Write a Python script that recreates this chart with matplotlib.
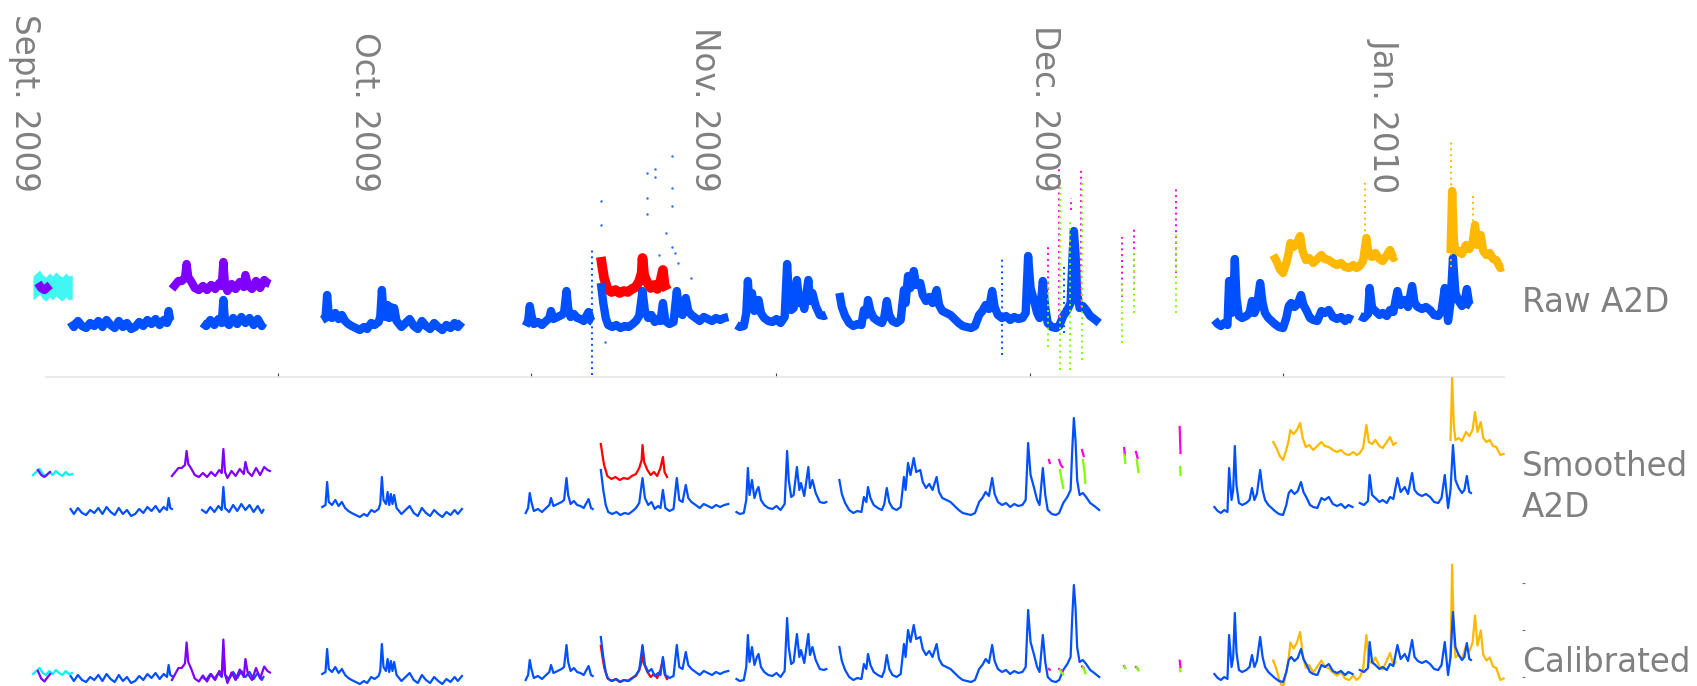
import numpy as np
import matplotlib.pyplot as plt

nan = np.nan

# x = days since 1 Sept 2009, y = sensor A2D level (arbitrary units)
month_ticks = [30, 61, 91, 122, 153]
month_labels = ['Sept. 2009', 'Oct. 2009', 'Nov. 2009', 'Dec. 2009', 'Jan. 2010']
row_labels = ['Raw A2D', 'Smoothed\nA2D', 'Calibrated']

# --- reference sensor (blue), one list per recording period
blue_sep_a = [(4.6, 51), (5.0, 46), (5.5, 52), (6.0, 47), (6.5, 45), (7.0, 50), (7.5, 47), (8.0, 52),
              (8.5, 46), (9.0, 53), (9.5, 48), (10.0, 45), (10.5, 52), (11.0, 46), (11.5, 50), (12.0, 44),
              (12.5, 46), (13.0, 51), (13.5, 47), (14.0, 53), (14.5, 49), (15.0, 54), (15.5, 48), (16.0, 53),
              (16.4, 50), (16.6, 62), (16.8, 52), (17.0, 51)]
blue_sep_b = [(20.7, 50), (21.2, 47), (21.7, 53), (22.2, 48), (22.7, 54), (23.1, 50), (23.3, 73), (23.5, 52),
              (24.0, 48), (24.5, 55), (25.0, 49), (25.5, 56), (26.0, 50), (26.5, 55), (27.0, 48), (27.5, 54),
              (28.0, 47), (28.2, 50)]
blue_oct = [(35.4, 53), (35.8, 55), (36.0, 78), (36.2, 58), (36.6, 55), (37.0, 60), (37.4, 54), (37.8, 58),
            (38.2, 52), (38.6, 49), (39.0, 47), (39.5, 45), (40.0, 43), (40.5, 46), (40.9, 44), (41.4, 50),
            (41.8, 48), (42.3, 51), (42.5, 56), (42.7, 83), (42.9, 60), (43.2, 56), (43.4, 68), (43.6, 55),
            (43.8, 66), (44.0, 56), (44.2, 65), (44.5, 52), (45.1, 46), (45.6, 50), (46.1, 54), (46.6, 47),
            (47.1, 44), (47.6, 52), (48.1, 47), (48.6, 44), (49.1, 50), (49.6, 46), (50.1, 43), (50.6, 48),
            (51.1, 45), (51.6, 50), (52.0, 46), (52.5, 51)]
blue_nov_a = [(60.3, 47), (60.6, 52), (60.8, 67), (61.0, 58), (61.3, 49), (61.8, 51), (62.3, 48), (62.8, 52),
              (63.2, 55), (63.4, 62), (63.7, 54), (64.2, 56), (64.7, 58), (65.0, 60), (65.3, 82), (65.5, 65),
              (65.8, 56), (66.2, 59), (66.6, 55), (67.0, 54), (67.4, 52), (67.8, 58), (68.0, 61), (68.3, 52),
              (68.5, 51)]
blue_nov_b = [(69.5, 90), (69.8, 70), (70.1, 55), (70.4, 48), (70.9, 46), (71.4, 48), (71.9, 45), (72.4, 47),
              (72.9, 46), (73.4, 49), (73.8, 52), (74.2, 57), (74.6, 82), (74.9, 62), (75.3, 55), (75.7, 58),
              (76.1, 51), (76.5, 54), (76.8, 52), (77.1, 70), (77.4, 52), (77.9, 49), (78.4, 51), (78.8, 82),
              (79.1, 60), (79.5, 58), (79.9, 75), (80.2, 62), (80.6, 58), (81.1, 55), (81.6, 52), (82.1, 56),
              (82.6, 54), (83.1, 52), (83.6, 55), (84.1, 53), (84.6, 55), (85.1, 56)]
blue_nov_c = [(86.1, 48), (86.5, 46), (87.0, 47), (87.3, 60), (87.5, 92), (87.7, 65), (88.0, 80), (88.3, 62),
              (88.6, 70), (88.8, 73), (89.1, 60), (89.5, 55), (90.0, 52), (90.5, 51), (91.0, 54), (91.5, 50),
              (92.0, 56), (92.3, 109), (92.5, 80), (92.8, 63), (93.1, 65), (93.5, 93), (93.8, 70), (94.0, 77),
              (94.4, 64), (94.9, 93), (95.1, 72), (95.4, 80), (95.8, 67), (96.3, 58), (96.8, 57), (97.1, 58)]
blue_dec = [(98.7, 80), (99.0, 66), (99.4, 57), (99.9, 50), (100.4, 47), (100.9, 49), (101.4, 48), (101.7, 63),
            (102.0, 58), (102.2, 73), (102.5, 62), (102.9, 55), (103.4, 52), (103.9, 50), (104.2, 56), (104.5, 72),
            (104.8, 58), (105.2, 52), (105.7, 50), (106.2, 53), (106.6, 83), (106.8, 70), (107.1, 97), (107.4, 85),
            (107.8, 102), (108.1, 88), (108.6, 90), (108.9, 78), (109.3, 72), (109.7, 76), (110.1, 70), (110.6, 83),
            (110.9, 68), (111.3, 62), (111.8, 60), (112.3, 58), (112.8, 54), (113.3, 50), (113.8, 47), (114.3, 46),
            (114.8, 45), (115.3, 47), (115.8, 58), (116.2, 62), (116.6, 68), (117.0, 64), (117.4, 82), (117.7, 66),
            (118.1, 58), (118.6, 55), (119.1, 57), (119.6, 53), (120.1, 56), (120.6, 54), (121.1, 55), (121.5, 60),
            (121.8, 117), (122.1, 85), (122.5, 73), (122.9, 60), (123.2, 55), (123.6, 92), (123.9, 65), (124.2, 50),
            (124.7, 46), (125.2, 45), (125.6, 47), (126.1, 57), (126.6, 63), (127.0, 70), (127.2, 110), (127.4, 142),
            (127.6, 120), (127.8, 80), (128.1, 65), (128.5, 67), (128.9, 63), (129.4, 57), (129.9, 54), (130.5, 50)]
blue_jan_a = [(144.6, 53), (145.0, 49), (145.4, 47), (145.8, 50), (146.2, 48), (146.4, 92), (146.7, 60),
              (146.9, 70), (147.1, 114), (147.3, 75), (147.6, 57), (148.0, 55), (148.5, 57), (148.9, 60),
              (149.2, 72), (149.5, 60), (149.8, 66), (150.2, 90), (150.5, 70), (150.8, 60), (151.2, 55),
              (151.6, 52), (152.0, 49), (152.5, 46), (153.0, 45), (153.4, 55), (153.7, 67), (154.0, 70),
              (154.4, 66), (154.8, 69), (155.2, 78), (155.5, 68), (155.9, 62), (156.3, 55), (156.7, 53),
              (157.2, 52), (157.7, 62), (158.1, 60), (158.6, 63), (159.1, 56), (159.6, 54), (160.1, 56),
              (160.6, 52), (161.0, 55), (161.5, 53)]
blue_jan_b = [(162.4, 57), (162.9, 55), (163.4, 59), (163.6, 85), (163.9, 65), (164.3, 62), (164.8, 58),
              (165.2, 60), (165.7, 57), (166.1, 63), (166.5, 61), (167.0, 82), (167.4, 68), (167.9, 73),
              (168.3, 66), (168.8, 87), (169.1, 70), (169.5, 66), (170.0, 64), (170.5, 66), (171.0, 63),
              (171.5, 58), (172.0, 57), (172.4, 62), (172.8, 85), (173.2, 52), (173.5, 70), (173.8, 115),
              (174.1, 80), (174.5, 72), (174.9, 67), (175.2, 70), (175.5, 84), (175.8, 68), (176.0, 67)]

# --- other sensors
cyan_sep = [(0.0, 85), (0.4, 88), (0.8, 91), (1.2, 86), (1.6, 84), (2.0, 88), (2.4, 85), (2.8, 89),
            (3.2, 86), (3.6, 84), (4.0, 88), (4.4, 85), (4.8, 86)]
purple_sep_a = [(0.6, 90), (1.0, 85), (1.4, 83), (1.8, 86), (2.1, 88)]
purple_sep_b = [(17.0, 84), (17.4, 88), (17.8, 92), (18.2, 92), (18.6, 95), (18.8, 109), (19.0, 96),
                (19.4, 91), (19.8, 85), (20.3, 83), (20.8, 87), (21.3, 83), (21.8, 88), (22.3, 84),
                (22.8, 90), (23.1, 87), (23.3, 111), (23.5, 88), (23.8, 82), (24.3, 89), (24.8, 84),
                (25.3, 91), (25.8, 86), (26.0, 98), (26.3, 88), (26.8, 84), (27.3, 92), (27.8, 85),
                (28.3, 93), (28.7, 90), (29.0, 89)]
red_nov = [(69.5, 116), (69.7, 105), (69.9, 95), (70.3, 84), (70.8, 81), (71.3, 83), (71.8, 80), (72.3, 82),
           (72.8, 81), (73.3, 84), (73.8, 86), (74.2, 92), (74.5, 100), (74.6, 115), (74.8, 98), (75.2, 90),
           (75.6, 85), (76.0, 88), (76.4, 84), (76.8, 92), (77.1, 103), (77.3, 88), (77.6, 83)]
orange_jan_a = [(151.8, 118), (152.2, 112), (152.6, 104), (153.0, 100), (153.4, 110), (153.7, 120),
                (153.9, 130), (154.3, 126), (154.7, 130), (155.1, 137), (155.4, 122), (155.8, 113),
                (156.2, 115), (156.7, 110), (157.2, 114), (157.7, 118), (158.1, 114), (158.6, 113),
                (159.1, 110), (159.6, 108), (160.1, 110), (160.6, 106), (161.1, 105), (161.6, 108),
                (162.0, 105), (162.4, 107), (162.8, 112), (163.2, 135), (163.5, 118), (163.9, 116),
                (164.3, 120), (164.8, 114), (165.2, 112), (165.7, 118), (166.1, 123), (166.5, 115), (166.8, 117)]
orange_jan_b = [(173.5, 120), (173.7, 182), (173.9, 135), (174.1, 120), (174.5, 122), (174.9, 119),
                (175.4, 128), (175.8, 124), (176.2, 130), (176.5, 148), (176.8, 128), (177.2, 138),
                (177.5, 122), (177.9, 118), (178.3, 120), (178.7, 114), (179.1, 113), (179.6, 105), (180.0, 106)]
magenta_dec = [[(124.35, 100), (124.45, 97)], [(125.6, 100), (125.8, 95), (126.0, 93)],
               [(128.4, 110), (128.6, 104)], [(133.55, 112), (133.65, 105)],
               [(135.0, 108), (135.2, 102)], [(140.35, 133), (140.45, 107)]]
green_dec = [[(125.7, 90), (125.9, 80), (126.1, 72)], [(128.5, 100), (128.7, 88), (128.8, 77)],
             [(133.6, 105), (133.7, 97)], [(135.1, 100), (135.3, 88)], [(140.4, 93), (140.45, 85)]]

# raw-only scatter: isolated points and vertical spreads (time, low, high)
blue_raw_points = [(69.5, 172), (69.5, 148), (70.0, 31), (75.2, 200), (75.2, 175), (75.2, 159), (76.1, 204),
                   (76.1, 196), (77.5, 140), (78.2, 217), (78.2, 185), (78.2, 167), (78.2, 126), (78.6, 120),
                   (76.6, 118), (79.0, 110), (80.5, 95)]
blue_raw_spread = [(68.4, -2, 123), (118.6, 18, 116), (126.2, 40, 110)]
magenta_raw_spread = [(124.2, 83, 126), (125.6, 56, 216), (127.0, 163, 175), (128.3, 66, 203),
                      (133.3, 76, 136), (134.8, 83, 146), (139.9, 100, 185)]
green_raw_spread = [(124.2, 26, 96), (125.7, 3, 193), (126.9, 3, 153), (128.4, 13, 193),
                    (133.3, 30, 90), (134.8, 60, 120), (139.9, 60, 140)]
orange_raw_spread = [(163.0, 130, 191), (173.6, 106, 231), (176.3, 140, 181)]

# calibration: (quiet raw level, calibrated level, gain)
calib = {'blue': (50, 50, 1.0), 'cyan': (86, 54, 1.0), 'purple': (88, 53, 1.5), 'red': (82, 47, 1.0),
         'orange': (115, 62, 1.5), 'magenta': (100, 58, 0.25), 'green': (90, 57, 0.25)}
cal_ticks = [50, 97, 144]

BLUE, CYAN, PURPLE, RED = '#0050ff', '#00f5f0', '#8000ff', '#ff0000'
ORANGE, GREEN, MAGENTA = '#ffb800', '#80ff00', '#ff00e6'
GREY = '#808080'


def join(segs):
    t, v = [], []
    for s in segs:
        t += [p[0] for p in s] + [nan]
        v += [p[1] for p in s] + [nan]
    return np.array(t), np.array(v)


sensors = [  # name, colour, segments (draw order)
    ('orange', ORANGE, [orange_jan_a, orange_jan_b]),
    ('red', RED, [red_nov]),
    ('blue', BLUE, [blue_sep_a, blue_sep_b, blue_oct, blue_nov_a, blue_nov_b, blue_nov_c, blue_dec,
                    blue_jan_a, blue_jan_b]),
    ('cyan', CYAN, [cyan_sep]),
    ('purple', PURPLE, [purple_sep_a, purple_sep_b]),
    ('magenta', MAGENTA, magenta_dec),
    ('green', GREEN, green_dec),
]

fig = plt.figure(figsize=(16.97, 6.86), dpi=100)
W = 1522 / 1697
xlim = (-4.04, 182.25)
ax_raw = fig.add_axes([0, 309 / 686, W, 377 / 686])
ax_sm = fig.add_axes([0, 0, W, 309 / 686])
ax_cal = fig.add_axes([0, 0, W, 309 / 686])
ax_raw.set_ylim(-4, 373)
ax_sm.set_ylim(-126, 183)
ax_cal.set_ylim(41, 350)

for ax in (ax_raw, ax_sm, ax_cal):
    ax.set_xlim(*xlim)
    ax.patch.set_visible(False)
    for s in ax.spines.values():
        s.set_visible(False)
    ax.set_xticks([])
    ax.set_yticks([])

# separator = bottom spine of the raw panel with month ticks
ax_raw.spines['bottom'].set_visible(True)
ax_raw.spines['bottom'].set_color('#e6e6e6')
ax_raw.spines['bottom'].set_linewidth(1.2)
ax_raw.spines['bottom'].set_bounds(1.6, 180)
ax_raw.set_xticks(month_ticks)
ax_raw.tick_params(axis='x', direction='in', length=3, width=0.8, color='#444444', labelbottom=False)

ax_cal.yaxis.tick_right()
ax_cal.set_yticks(cal_ticks)
ax_cal.tick_params(axis='y', direction='out', length=2.5, width=0.8, color='#777777', labelright=False)

raw_lw = {'purple': 6, 'blue': 6, 'red': 7, 'orange': 6}
for name, col, segs in sensors:
    t, v = join(segs)
    q, lvl, g = calib[name]
    if name == 'cyan':
        # noisy raw band of the first sensor
        ax_raw.fill_between(t, v - 12, v + 12, color=col, alpha=0.75, lw=0)
    elif name in raw_lw:
        ax_raw.plot(t, v, color=col, lw=raw_lw[name], solid_capstyle='butt', clip_on=False)
    ax_sm.plot(t, v, color=col, lw=1.6, clip_on=False)
    ax_cal.plot(t, lvl + g * (v - q), color=col, lw=1.6, clip_on=False)

dots = (0, (1, 2))
for spread, col in ((blue_raw_spread, BLUE), (magenta_raw_spread, MAGENTA),
                    (green_raw_spread, GREEN), (orange_raw_spread, ORANGE)):
    ax_raw.vlines([s[0] for s in spread], [s[1] for s in spread], [s[2] for s in spread],
                  colors=col, linestyles=dots, lw=1.4, clip_on=False)
ax_raw.plot([p[0] for p in blue_raw_points], [p[1] for p in blue_raw_points], 'o',
            color=BLUE, ms=1.8, mew=0, alpha=0.8)

# month labels along the top
for i, lab in enumerate(month_labels):
    fig.text(0.0147 + 0.2003 * i, 1 - 192 / 686, lab, rotation=270, rotation_mode='anchor',
             ha='right', va='center', fontsize=23.5, color=GREY)

# row labels on the right
for lab, y in zip(row_labels, [302, 487, 663]):
    fig.text(1522 / 1697, 1 - y / 686, lab, ha='left', va='center', fontsize=23.5,
             color=GREY, linespacing=1.3)

fig.savefig('out.png', dpi=100)
